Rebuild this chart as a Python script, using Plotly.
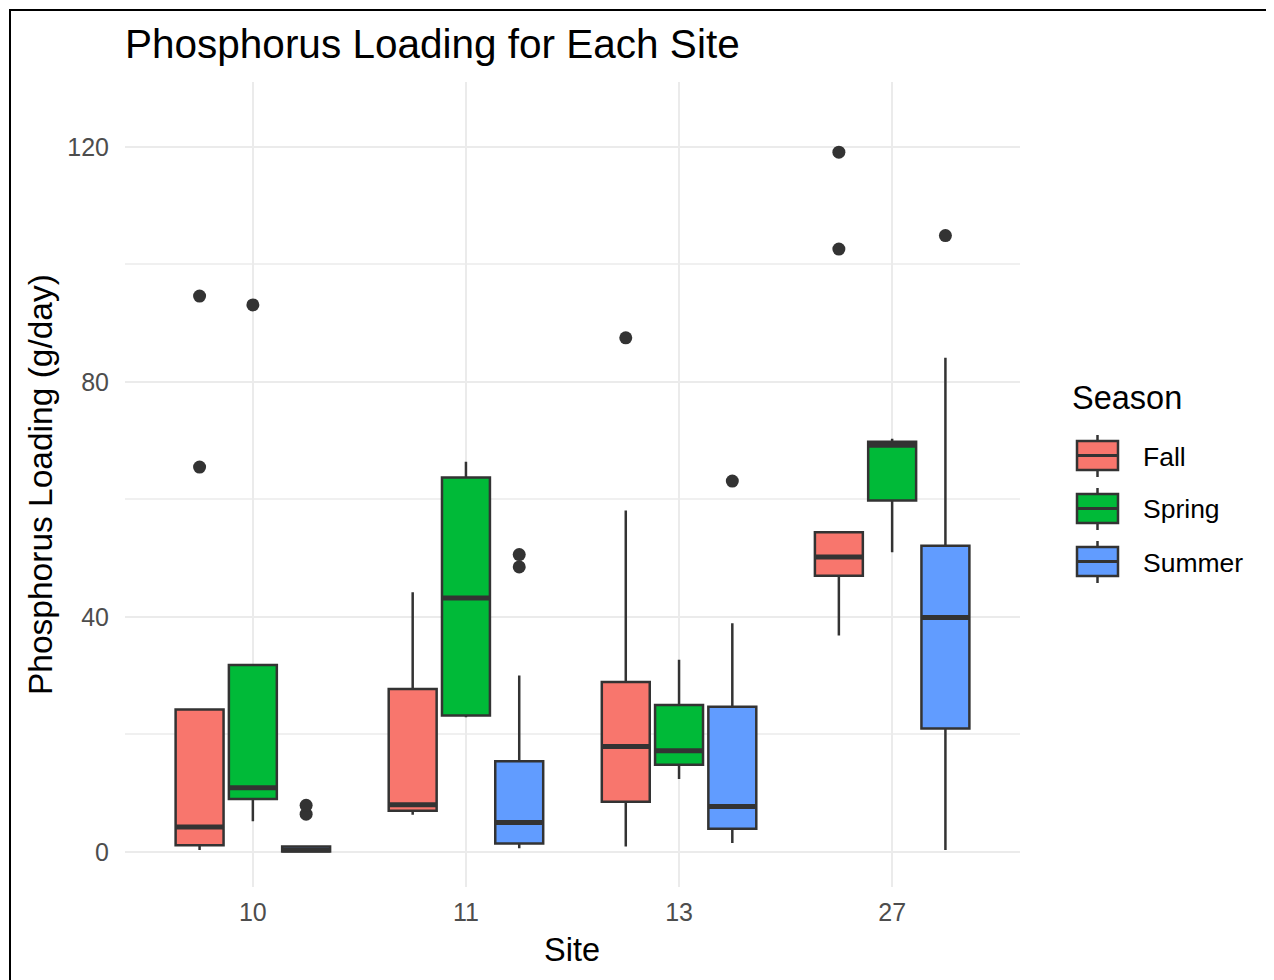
import plotly.graph_objects as go

# ---------------- data ----------------
sites = ["10", "11", "13", "27"]
seasons = ["Fall", "Spring", "Summer"]

fall_q1 = [1.1, 7.0, 8.5, 47.0]
fall_median = [4.2, 8.0, 17.9, 50.2]
fall_q3 = [24.2, 27.7, 28.9, 54.4]
fall_lower = [0.3, 6.3, 0.9, 36.8]
fall_upper = [24.2, 44.2, 58.1, 54.4]

spring_q1 = [9.0, 23.2, 14.8, 59.8]
spring_median = [10.9, 43.2, 17.2, 69.2]
spring_q3 = [31.8, 63.7, 25.0, 69.8]
spring_lower = [5.2, 22.9, 12.4, 51.0]
spring_upper = [31.8, 66.4, 32.7, 70.3]

summer_q1 = [0.05, 1.4, 3.9, 21.0]
summer_median = [0.3, 5.0, 7.7, 39.9]
summer_q3 = [0.9, 15.4, 24.7, 52.1]
summer_lower = [0.0, 0.6, 1.5, 0.3]
summer_upper = [0.9, 30.0, 38.9, 84.1]

outlier_site = ["10", "10", "13", "27", "27", "10", "10", "10", "11", "11", "13", "27"]
outlier_season = ["Fall", "Fall", "Fall", "Fall", "Fall", "Spring",
                  "Summer", "Summer", "Summer", "Summer", "Summer", "Summer"]
outlier_value = [65.5, 94.6, 87.5, 119.1, 102.6, 93.1,
                 6.4, 7.9, 48.5, 50.6, 63.1, 104.9]

y_ticks = [0, 40, 80, 120]

# ---------------- styling ----------------
OFF = 8                      # page body margin of the browser
W, H = 1274 - OFF, 980 - OFF
L, R, T, B = 125, 1020, 82, 887          # plot panel in window pixels
FONT = "Liberation Sans, Arial, Helvetica, sans-serif"
colors = {"Fall": "#F8766D", "Spring": "#00BA38", "Summer": "#619CFF"}
offsets = {"Fall": -0.25, "Spring": 0.0, "Summer": 0.25}
BOXW = 0.225
EDGE = "#333333"
LW = 2.5

stats = {
    "Fall": (fall_q1, fall_median, fall_q3, fall_lower, fall_upper),
    "Spring": (spring_q1, spring_median, spring_q3, spring_lower, spring_upper),
    "Summer": (summer_q1, summer_median, summer_q3, summer_lower, summer_upper),
}

def px2x(px):
    return (px - L) / (R - L)

def py2y(py):
    return (B - py) / (B - T)

fig = go.Figure()

for s in seasons:
    q1, med, q3, lo, hi = stats[s]
    xs = [i + offsets[s] for i in range(len(sites))]
    fig.add_trace(go.Box(
        x=xs, q1=q1, median=med, q3=q3, lowerfence=lo, upperfence=hi,
        width=BOXW, whiskerwidth=0, fillcolor=colors[s],
        line=dict(color=EDGE, width=LW), boxpoints=False,
        name=s, showlegend=False, hoverinfo="skip",
    ))
    # thick median bars
    mx, my = [], []
    for i, m in enumerate(med):
        mx += [xs[i] - BOXW / 2, xs[i] + BOXW / 2, None]
        my += [m, m, None]
    fig.add_trace(go.Scatter(x=mx, y=my, mode="lines",
                             line=dict(color=EDGE, width=5),
                             showlegend=False, hoverinfo="skip"))

# outliers
ox = [sites.index(site) + offsets[se] for site, se in zip(outlier_site, outlier_season)]
fig.add_trace(go.Scatter(x=ox, y=outlier_value, mode="markers",
                         marker=dict(color=EDGE, size=13),
                         showlegend=False, hoverinfo="skip"))

fig.update_layout(
    width=W, height=H,
    margin=dict(l=L - OFF, r=W - (R - OFF), t=T - OFF, b=H - (B - OFF), autoexpand=False),
    paper_bgcolor="white", plot_bgcolor="white",
    font=dict(family=FONT, color="black"),
    showlegend=False,
    boxmode="overlay",
    title=dict(text="Phosphorus Loading for Each Site", xref="paper", x=px2x(125),
               xanchor="left", yref="container", y=1 - (44 - OFF) / H, yanchor="middle",
               font=dict(size=40.5, color="black", family=FONT)),
    xaxis=dict(range=[-0.6, 3.6], tickvals=list(range(len(sites))), ticktext=sites,
               showgrid=True, gridcolor="#EBEBEB", gridwidth=2, zeroline=False,
               showline=False, ticks="", tickfont=dict(size=25, color="#4D4D4D"),
               ticklabelstandoff=8),
    yaxis=dict(range=[-6.0, 131.05], tickvals=y_ticks,
               showgrid=True, gridcolor="#EBEBEB", gridwidth=2, zeroline=False,
               showline=False, ticks="", tickfont=dict(size=25, color="#4D4D4D"),
               minor=dict(dtick=20, tick0=0, showgrid=True, gridcolor="#F0F0F0", gridwidth=1.5),
               ticklabelstandoff=15),
)

annotations = [
    dict(text="Site", x=px2x(572), y=py2y(950), xref="paper", yref="paper",
         showarrow=False, xanchor="center", yanchor="middle",
         font=dict(size=32.5, color="black", family=FONT)),
    dict(text="Phosphorus Loading (g/day)", x=px2x(40), y=py2y(485), xref="paper",
         yref="paper", showarrow=False, textangle=-90, xanchor="center", yanchor="middle",
         font=dict(size=33.5, color="black", family=FONT)),
    dict(text="Season", x=px2x(1070), y=py2y(398), xref="paper", yref="paper",
         showarrow=False, xanchor="left", yanchor="middle",
         font=dict(size=32.5, color="black", family=FONT)),
]

shapes = [
    dict(type="line", xref="paper", yref="paper", x0=px2x(10), x1=px2x(10),
         y0=py2y(9), y1=py2y(990), line=dict(color="black", width=2)),
    dict(type="line", xref="paper", yref="paper", x0=px2x(9), x1=px2x(1290),
         y0=py2y(10), y1=py2y(10), line=dict(color="black", width=2)),
]

# legend keys
for k, s in enumerate(seasons):
    top = 441 + 53 * k
    bot = top + 29
    mid = (top + bot) / 2
    cx = 1097.5
    shapes.append(dict(type="line", xref="paper", yref="paper", x0=px2x(cx), x1=px2x(cx),
                       y0=py2y(top - 6), y1=py2y(bot + 7), line=dict(color=EDGE, width=2.5)))
    shapes.append(dict(type="rect", xref="paper", yref="paper", x0=px2x(1077), x1=px2x(1118),
                       y0=py2y(bot), y1=py2y(top), fillcolor=colors[s],
                       line=dict(color=EDGE, width=2.5)))
    shapes.append(dict(type="line", xref="paper", yref="paper", x0=px2x(1077), x1=px2x(1118),
                       y0=py2y(mid), y1=py2y(mid), line=dict(color=EDGE, width=3)))
    annotations.append(dict(text=s, x=px2x(1141), y=py2y(mid + 1), xref="paper", yref="paper",
                            showarrow=False, xanchor="left", yanchor="middle",
                            font=dict(size=26.5, color="black", family=FONT)))

fig.update_layout(annotations=annotations, shapes=shapes)

fig.write_html("out.html")
